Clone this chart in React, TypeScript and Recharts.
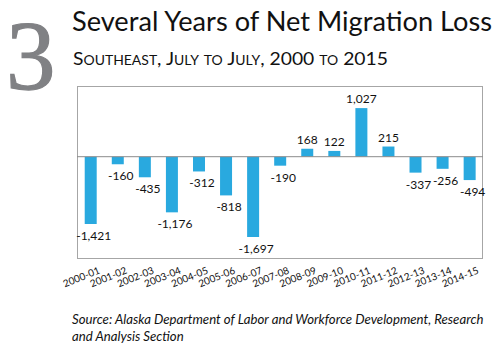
import { BarChart, Bar, XAxis, YAxis, ReferenceLine, LabelList } from "recharts";

const years = [
  "2000-01", "2001-02", "2002-03", "2003-04", "2004-05", "2005-06", "2006-07", "2007-08",
  "2008-09", "2009-10", "2010-11", "2011-12", "2012-13", "2013-14", "2014-15",
];
const netMigration = [
  -1421, -160, -435, -1176, -312, -818, -1697, -190, 168, 122, 1027, 215, -337, -256, -494,
];

const BLUE = "#29a9df";
const FONT = "Lato, 'Open Sans', sans-serif";

const data = years.map((year, i) => ({ year, value: netMigration[i] }));

// value labels: under the bar when negative, above when positive
function ValueLabel(props: any) {
  const { x, y, width, height, value } = props;
  const neg = value < 0;
  const top = Math.min(y, y + height);
  const bottom = Math.max(y, y + height);
  const cx = x + width / 2 + (neg ? 3 : 0);
  const ty = neg ? bottom + 16 : top - 5;
  return (
    <text x={cx} y={ty} textAnchor="middle" fontSize={12} fill="#111" fontFamily={FONT}>
      {value.toLocaleString("en-US")}
    </text>
  );
}

function YearTick(props: any) {
  const { x, y, payload } = props;
  return (
    <g transform={`translate(${x + 10},${y + 6})`}>
      <text textAnchor="end" fontSize={10} fill="#111" fontFamily={FONT} transform="rotate(-22)">
        {payload.value}
      </text>
    </g>
  );
}

export default function App() {
  return (
    <div style={{ position: "absolute", left: 0, top: 0, width: 500, height: 350, background: "#fff", fontFamily: FONT }}>
      <svg width={500} height={130} style={{ position: "absolute", left: 0, top: 0 }}>
        <text x={6} y={89} fontSize={99} fill="#808184" stroke="#808184" strokeWidth={1.2} fontFamily="'Liberation Serif', serif">
          3
        </text>
        <text x={72} y={31} fontSize={27} fill="#111" fontFamily={FONT} textLength={420} lengthAdjust="spacingAndGlyphs">
          Several Years of Net Migration Loss
        </text>
        <text x={73} y={65} fontSize={18} fill="#111" fontFamily={FONT} style={{ fontVariant: "small-caps" }} textLength={315} lengthAdjust="spacingAndGlyphs">
          Southeast, July to July, 2000 to 2015
        </text>
      </svg>
      {/* plot frame */}
      <div style={{ position: "absolute", left: 77, top: 86, width: 406, height: 173, border: "1px solid #a6a6a6", boxSizing: "border-box" }} />
      <div style={{ position: "absolute", left: 0, top: 0 }}>
        <BarChart
          width={500}
          height={350}
          data={data}
          margin={{ top: 86, right: 17, bottom: 51, left: 77 }}
          barCategoryGap="28.5%"
        >
          <XAxis dataKey="year" axisLine={false} tickLine={false} interval={0} height={40} tick={<YearTick />} />
          <YAxis hide domain={[-2162, 1494]} />
          <ReferenceLine y={0} stroke="#8c8c8c" strokeWidth={1} />
          <Bar dataKey="value" fill={BLUE} isAnimationActive={false}>
            <LabelList dataKey="value" content={<ValueLabel />} />
          </Bar>
        </BarChart>
      </div>
      <div style={{ position: "absolute", left: 72, top: 311, fontSize: 13.2, fontStyle: "italic", color: "#111", lineHeight: "17px", width: 425 }}>
        Source: Alaska Department of Labor and Workforce Development, Research and Analysis Section
      </div>
    </div>
  );
}
